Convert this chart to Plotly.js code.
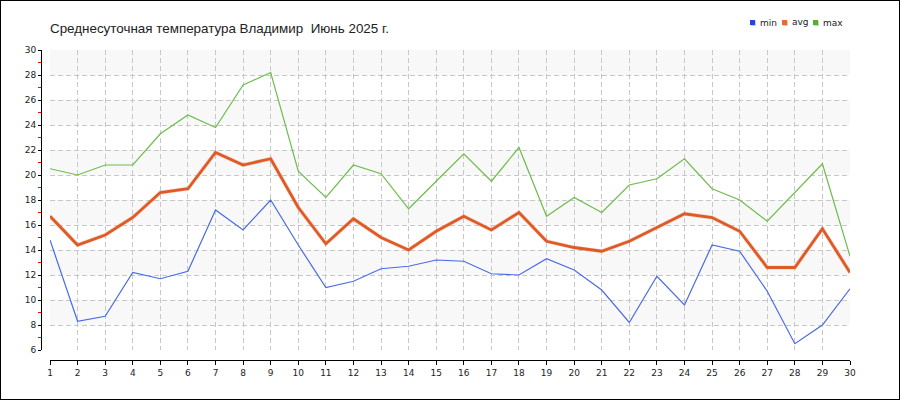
<!DOCTYPE html>
<html>
<head>
<meta charset="utf-8">
<script src="https://cdn.plot.ly/plotly-3.0.1.min.js"></script>
<style>
html,body{margin:0;padding:0;background:#fff;}
#chart{width:898px;height:398px;border:1px solid #000;}
</style>
</head>
<body>
<div id="chart"></div>
<script>
const days = [1,2,3,4,5,6,7,8,9,10,11,12,13,14,15,16,17,18,19,20,21,22,23,24,25,26,27,28,29,30];
const minT = [14.8, 8.3, 8.7, 12.2, 11.7, 12.3, 17.2, 15.6, 18.0, 14.4, 11.0, 11.5, 12.5, 12.7, 13.2, 13.1, 12.1, 12.0, 13.3, 12.4, 10.8, 8.2, 11.9, 9.6, 14.4, 13.9, 10.7, 6.5, 8.0, 10.9];
const avgT = [16.7, 14.4, 15.2, 16.6, 18.6, 18.9, 21.8, 20.8, 21.3, 17.4, 14.5, 16.5, 15.0, 14.0, 15.5, 16.7, 15.6, 17.0, 14.7, 14.2, 13.9, 14.7, 15.8, 16.9, 16.6, 15.5, 12.6, 12.6, 15.7, 12.2];
const maxT = [20.5, 20.0, 20.8, 20.8, 23.3, 24.8, 23.8, 27.2, 28.2, 20.3, 18.2, 20.8, 20.1, 17.3, 19.5, 21.7, 19.5, 22.2, 16.7, 18.2, 17.0, 19.2, 19.7, 21.3, 18.9, 18.0, 16.3, 18.6, 20.9, 13.5];
const yTicks = [6,8,10,12,14,16,18,20,22,24,26,28,30];
const seriesNames = ["min","avg","max"];
const titleText = "Среднесуточная температура Владимир  Июнь 2025 г.";

const W = 898, H = 398;
const M = {l:40, r:49, t:49, b:39};
const PW = W - M.l - M.r, PH = H - M.t - M.b;
// page (900x400) coords -> paper coords
const px = x => (x - 1 - M.l) / PW;
const py = y => 1 - (y - 1 - M.t) / PH;

const colors = {min:'#4a6be6', avg:'#e05a26', max:'#6dbd4b'};
const legendColors = {min:'#2146e6', avg:'#ee6a34', max:'#4fb22b'};

const traces = [
  {x: days, y: minT, mode:'lines', name:'min', line:{color:colors.min, width:1.2}, showlegend:false, hoverinfo:'skip'},
  {x: days, y: avgT, mode:'lines', name:'avg-shadow', line:{color:'rgba(240,160,130,0.4)', width:4}, showlegend:false, hoverinfo:'skip'},
  {x: days, y: avgT, mode:'lines', name:'avg', line:{color:colors.avg, width:2.8}, showlegend:false, hoverinfo:'skip'},
  {x: days, y: maxT, mode:'lines', name:'max', line:{color:colors.max, width:1.2}, showlegend:false, hoverinfo:'skip'}
];

const shapes = [];
// alternating background bands
for (let i = 0; i < yTicks.length - 1; i++) {
  if (i % 2 === 1) {
    shapes.push({type:'rect', xref:'x domain', yref:'y', x0:0, x1:1, y0:yTicks[i], y1:yTicks[i+1],
      fillcolor:'#f8f8f8', line:{width:0}, layer:'below'});
  }
}
// legend swatches
const legendX = [750, 782, 813];
const annotations = [];
seriesNames.forEach((n, i) => {
  const x0 = legendX[i];
  shapes.push({type:'rect', xref:'paper', yref:'paper', x0:px(x0+1), x1:px(x0+6), y0:py(21), y1:py(26),
    fillcolor:'#cccccc', line:{width:0}});
  shapes.push({type:'rect', xref:'paper', yref:'paper', x0:px(x0), x1:px(x0+5), y0:py(20), y1:py(25),
    fillcolor:legendColors[n], line:{width:0}});
  annotations.push({xref:'paper', yref:'paper', x:px(x0+8), y:py(n === 'avg' ? 22 : 23), xanchor:'left', yanchor:'middle',
    text:n, showarrow:false, font:{family:'DejaVu Sans', size:9, color:'#222'}});
});

const layout = {
  width: W, height: H,
  margin: M,
  paper_bgcolor:'#ffffff', plot_bgcolor:'#ffffff',
  showlegend:false,
  title: {text:titleText, xref:'container', yref:'container', x:49/W, xanchor:'left', y:1-27/H, yanchor:'middle',
    font:{family:'Liberation Sans, Arial', size:13.4, color:'#222'}},
  xaxis: {
    range:[1,30], domain:[9/PW, 1], anchor:'free', position:0,
    tickvals: days, ticktext: days.map(String),
    showline:true, linecolor:'#000', linewidth:1,
    ticks:'outside', ticklen:4, tickcolor:'#000',
    showgrid:true, gridcolor:'#c8c8c8', griddash:'5px,3px', gridwidth:1,
    zeroline:false, fixedrange:true,
    tickfont:{family:'DejaVu Sans', size:9, color:'#222'}
  },
  yaxis: {
    range:[6,30], domain:[10/PH, 1], anchor:'free', position:0,
    tickvals: yTicks,
    showline:true, linecolor:'#000', linewidth:1,
    ticks:'outside', ticklen:3, tickcolor:'#000',
    minor:{dtick:1, ticks:'outside', ticklen:3, tickcolor:'#ff0000', showgrid:false},
    showgrid:true, gridcolor:'#c8c8c8', griddash:'5px,3px', gridwidth:1,
    zeroline:false, fixedrange:true,
    tickfont:{family:'DejaVu Sans', size:9, color:'#222'}
  },
  shapes: shapes,
  annotations: annotations
};

Plotly.newPlot('chart', traces, layout, {displayModeBar:false, staticPlot:true});
</script>
</body>
</html>
